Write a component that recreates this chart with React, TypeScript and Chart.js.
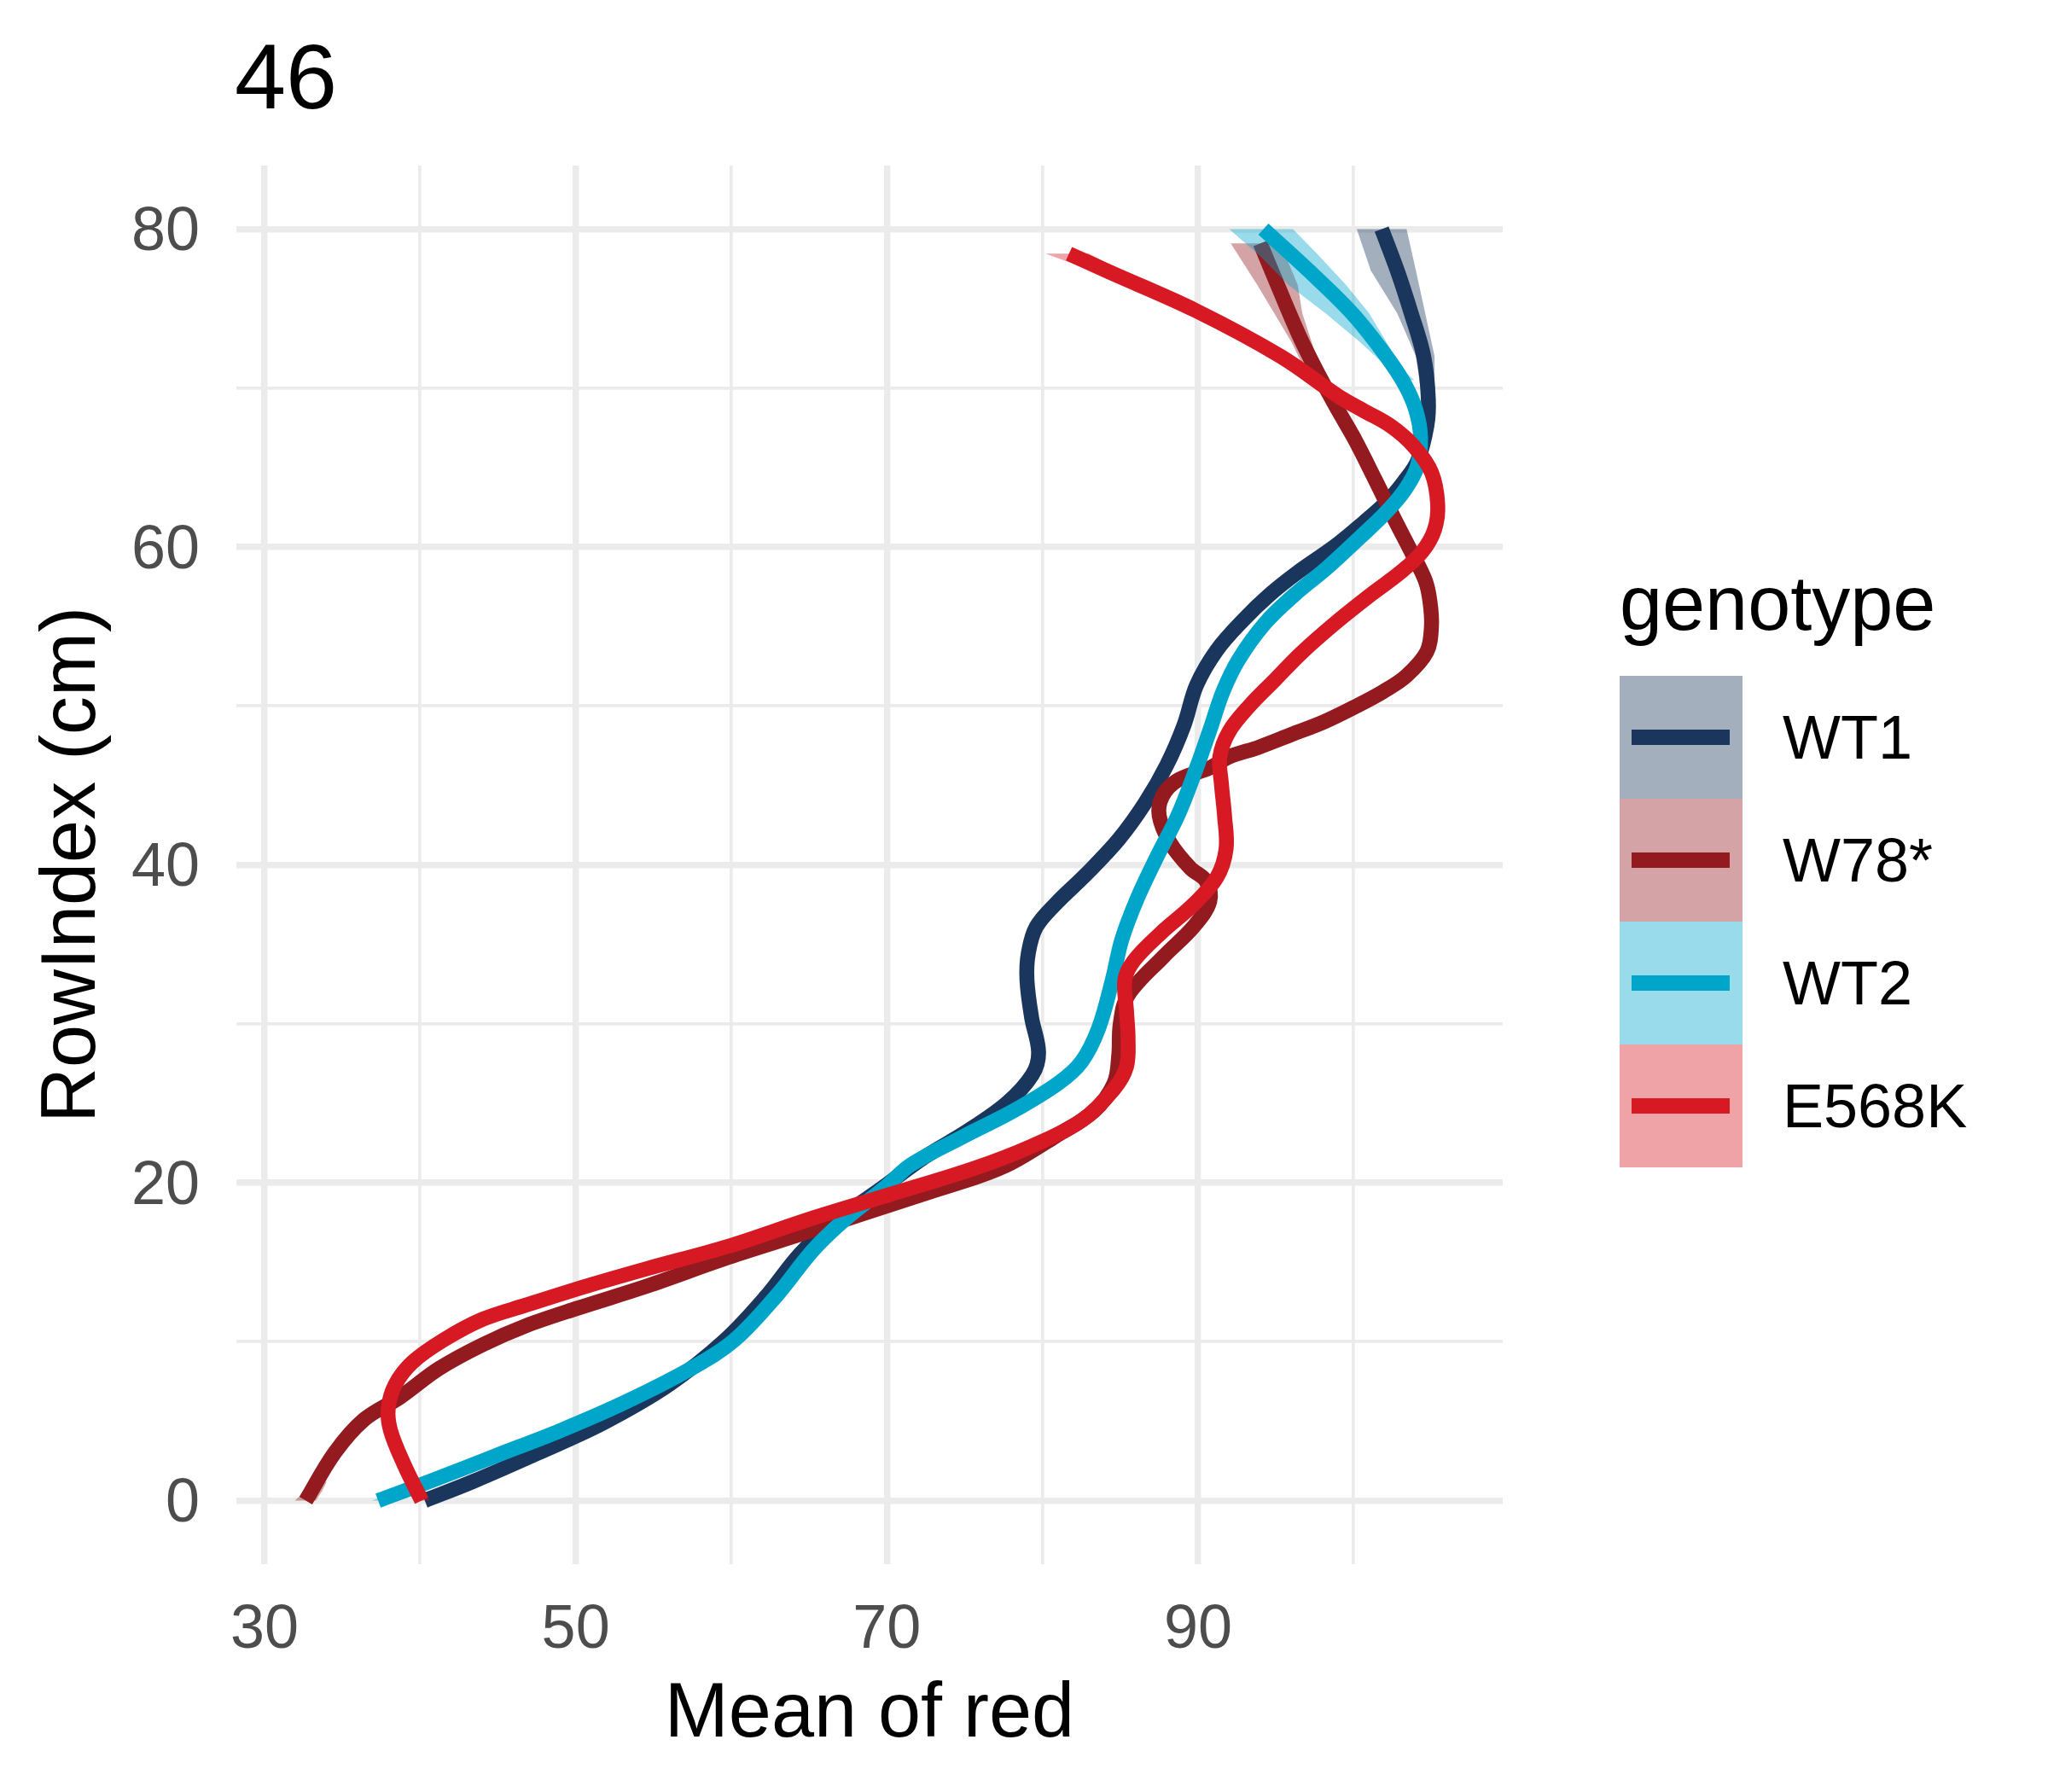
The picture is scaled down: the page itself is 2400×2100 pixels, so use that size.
import React, { useEffect, useRef } from "react";
import Chart from "chart.js/auto";

const FONT = "'Liberation Sans', Arial, Helvetica, sans-serif";

const plotTitle = "46";
const xTitle = "Mean of red";
const yTitle = "RowIndex (cm)";
const legendTitle = "genotype";

const genotypes = ["WT1", "W78*", "WT2", "E568K"];
const lineColors = ["#1B365D", "#931A1E", "#00A5CA", "#D71923"];
const ribbonColors = [
  "rgba(27,54,93,0.4)",
  "rgba(147,25,30,0.4)",
  "rgba(0,165,202,0.4)",
  "rgba(215,25,35,0.4)",
];

// axis ticks
const xTicks = [30, 40, 50, 60, 70, 80, 90, 100];
const xLabelled = [30, 50, 70, 90];
const yTicks = [0, 10, 20, 30, 40, 50, 60, 70, 80];
const yLabelled = [0, 20, 40, 60, 80];
const xMin = 28.19;
const xMax = 109.58;
const yMin = -4.0;
const yMax = 84.0;

// smoothed curves (RowIndex -> mean of red)
const wt1Y = [0, 1.2, 3.0, 4.9, 7.3, 10.1, 12.8, 15.5, 17.5, 19.6, 21.6, 23.2, 25.0, 26.8, 28.2, 30.4, 32.8, 34.5, 36.1, 37.6, 39.4, 41.6, 43.9, 46.3, 48.8, 51.3, 53.5, 55.4, 57.0, 58.4, 60.05, 61.5, 62.9, 64.2, 65.4, 67.6, 69.3, 72.0, 74.7, 77.4, 80.0];
const wt1X = [40.3, 43.4, 47.6, 51.8, 56.0, 59.6, 62.2, 64.4, 66.6, 69.6, 72.4, 75.1, 77.7, 79.35, 79.75, 79.3, 79.0, 79.1, 79.6, 80.9, 82.8, 84.9, 86.6, 88.0, 89.1, 89.9, 91.2, 92.9, 94.6, 96.4, 98.8, 100.6, 102.2, 103.3, 104.1, 104.7, 104.8, 104.5, 103.7, 102.8, 101.8];

const w78Y = [0, 3.0, 5.1, 6.5, 8.3, 9.8, 11.0, 12.1, 13.5, 15.3, 16.9, 19.5, 20.4, 21.25, 22.9, 24.5, 26.25, 28.0, 30.0, 31.8, 34.25, 36.1, 37.7, 39.0, 39.8, 41.4, 43.1, 44.3, 45.3, 46.1, 46.8, 47.4, 48.2, 49.0, 50.0, 50.9, 51.9, 53.4, 55.0, 56.6, 57.9, 59.7, 61.8, 64.2, 66.9, 68.6, 70.75, 73.3, 76.5, 79.1];
const w78X = [32.65, 34.5, 36.4, 38.7, 41.2, 44.0, 46.8, 50.1, 54.6, 59.8, 64.9, 73.0, 75.9, 78.0, 80.8, 83.3, 84.6, 84.9, 85.0, 85.5, 87.8, 89.7, 90.75, 90.5, 89.5, 88.2, 87.5, 87.7, 88.65, 90.75, 92.0, 93.9, 96.0, 98.1, 100.2, 101.9, 103.4, 104.7, 105.0, 104.9, 104.6, 103.7, 102.6, 101.4, 100.0, 99.0, 97.8, 96.5, 95.1, 94.0];

const wt2Y = [0, 1.2, 2.8, 4.4, 6.2, 8.3, 10.1, 13.0, 15.7, 17.6, 19.8, 21.1, 22.9, 24.5, 26.25, 27.6, 29.7, 32.8, 35.3, 37.9, 40.6, 43.1, 46.1, 48.6, 50.9, 52.9, 55.2, 57.0, 58.7, 60.6, 62.2, 63.6, 65.1, 66.9, 68.6, 70.2, 72.0, 74.7, 77.4, 80.0];
const wt2X = [37.3, 40.6, 44.8, 49.0, 53.2, 57.4, 60.2, 63.0, 65.2, 67.2, 70.0, 71.5, 74.9, 78.1, 81.0, 82.5, 83.6, 84.5, 85.1, 86.1, 87.4, 88.7, 89.9, 90.8, 91.6, 92.6, 94.3, 96.2, 98.3, 100.4, 102.1, 103.3, 104.1, 104.3, 104.0, 103.3, 102.1, 99.9, 97.1, 94.2];

const e568kY = [0, 2.2, 4.4, 5.8, 7.3, 8.7, 10.1, 11.4, 12.3, 13.5, 14.6, 16.0, 17.7, 19.2, 20.9, 22.3, 23.9, 25.9, 27.3, 29.1, 30.8, 32.8, 34.0, 35.7, 37.5, 39.2, 41.0, 43.1, 45.1, 46.8, 48.4, 50.0, 51.7, 53.3, 55.2, 57.0, 58.4, 59.7, 61.1, 62.7, 64.7, 66.3, 67.6, 68.6, 69.5, 72.0, 74.9, 77.3, 78.45];
const e568kX = [40.1, 39.0, 38.1, 37.95, 38.4, 39.5, 41.5, 44.0, 46.8, 50.7, 54.6, 59.8, 65.0, 70.0, 75.6, 79.3, 82.5, 84.6, 85.4, 85.5, 85.4, 85.3, 85.9, 87.6, 89.7, 91.2, 91.8, 91.7, 91.5, 91.4, 92.0, 93.3, 95.0, 96.6, 98.8, 101.1, 103.0, 104.4, 105.2, 105.4, 105.0, 103.9, 102.4, 100.6, 99.0, 95.3, 89.8, 84.3, 81.7];

// confidence ribbons (only where wider than the line)
const wt1TopY = [69.3, 72.0, 74.7, 77.4, 80.0];
const wt1TopLo = [104.4, 104.0, 102.8, 101.1, 100.2];
const wt1TopHi = [105.2, 105.2, 104.6, 104.0, 103.4];

const w78TopY = [70.0, 71.1, 72.9, 74.7, 76.5, 79.1];
const w78TopLo = [97.5, 96.9, 96.0, 94.9, 93.8, 92.1];
const w78TopHi = [98.3, 97.9, 97.3, 96.7, 96.4, 95.3];
const w78BotY = [0, 0.6, 1.2];
const w78BotLo = [31.95, 32.6, 33.1];
const w78BotHi = [33.3, 33.7, 34.0];

const wt2TopY = [70.5, 71.1, 72.9, 74.7, 76.5, 78.3, 80.0];
const wt2TopLo = [103.0, 102.4, 100.4, 98.2, 95.8, 94.0, 92.0];
const wt2TopHi = [103.9, 103.2, 102.1, 101.0, 99.5, 97.8, 96.1];
const wt2BotY = [0, 0.5];
const wt2BotLo = [36.9, 38.3];
const wt2BotHi = [37.9, 39.2];

const e568kTopY = [77.0, 77.6, 78.45];
const e568kTopLo = [84.0, 82.6, 80.2];
const e568kTopHi = [86.0, 84.6, 83.0];
const e568kBotY = [0, 0.6, 1.2];
const e568kBotLo = [39.8, 39.5, 39.3];
const e568kBotHi = [40.6, 40.3, 40.0];

function toPoints(xs: number[], ys: number[]) {
  return xs.map((x, i) => ({ x, y: ys[i] }));
}

function toPolygon(ys: number[], lo: number[], hi: number[]) {
  const pts = ys.map((y, i) => ({ x: lo[i], y }));
  for (let i = ys.length - 1; i >= 0; i--) pts.push({ x: hi[i], y: ys[i] });
  return pts;
}

const LINE_W = 17.5;

export default function App() {
  const canvasRef = useRef<HTMLCanvasElement | null>(null);

  useEffect(() => {
    const canvas = canvasRef.current;
    if (!canvas) return;

    const groups = [
      { ribbons: [toPolygon(wt1TopY, wt1TopLo, wt1TopHi)], line: toPoints(wt1X, wt1Y) },
      { ribbons: [toPolygon(w78TopY, w78TopLo, w78TopHi), toPolygon(w78BotY, w78BotLo, w78BotHi)], line: toPoints(w78X, w78Y) },
      { ribbons: [toPolygon(wt2TopY, wt2TopLo, wt2TopHi), toPolygon(wt2BotY, wt2BotLo, wt2BotHi)], line: toPoints(wt2X, wt2Y) },
      { ribbons: [toPolygon(e568kTopY, e568kTopLo, e568kTopHi), toPolygon(e568kBotY, e568kBotLo, e568kBotHi)], line: toPoints(e568kX, e568kY) },
    ];

    const seq: any[] = [];
    groups.forEach((g, gi) => {
      g.ribbons.forEach((poly) => {
        seq.push({
          label: genotypes[gi] + " ribbon",
          data: poly,
          fill: "shape",
          backgroundColor: ribbonColors[gi],
          borderColor: "rgba(0,0,0,0)",
          borderWidth: 0,
          pointRadius: 0,
          tension: 0,
        });
      });
      seq.push({
        label: genotypes[gi],
        data: g.line,
        fill: false,
        borderColor: lineColors[gi],
        backgroundColor: lineColors[gi],
        borderWidth: LINE_W,
        borderCapStyle: "butt",
        borderJoinStyle: "round",
        pointRadius: 0,
        tension: 0.35,
      });
    });
    const n = seq.length;
    seq.forEach((d, i) => {
      d.order = n - i;
    });

    const chart = new Chart(canvas, {
      type: "line",
      data: { datasets: seq },
      options: {
        animation: false,
        responsive: false,
        devicePixelRatio: 1,
        events: [],
        layout: { padding: { left: 0, top: 194, right: 639, bottom: 0 } },
        plugins: {
          legend: { display: false },
          tooltip: { enabled: false },
          title: { display: false },
        },
        elements: { point: { radius: 0 } },
        scales: {
          x: {
            type: "linear",
            min: xMin,
            max: xMax,
            afterFit: (s: any) => {
              s.height = 267;
            },
            afterBuildTicks: (axis: any) => {
              axis.ticks = xTicks.map((v) => ({ value: v }));
            },
            ticks: {
              autoSkip: false,
              maxRotation: 0,
              minRotation: 0,
              padding: 35,
              color: "#4D4D4D",
              font: { family: FONT, size: 72 },
              callback: (v: any) => (xLabelled.includes(Number(v)) ? String(v) : ""),
            },
            grid: {
              color: "#EBEBEB",
              drawTicks: false,
              lineWidth: (c: any) => (c.tick && xLabelled.includes(c.tick.value) ? 7.4 : 3.7),
            },
            border: { display: false },
            title: {
              display: true,
              text: xTitle,
              color: "#000000",
              font: { family: FONT, size: 90 },
              padding: { top: 0, bottom: 36 },
            },
          },
          y: {
            type: "linear",
            min: yMin,
            max: yMax,
            afterFit: (s: any) => {
              s.width = 277;
            },
            afterBuildTicks: (axis: any) => {
              axis.ticks = yTicks.map((v) => ({ value: v }));
            },
            ticks: {
              autoSkip: false,
              padding: 43,
              labelOffset: 5,
              color: "#4D4D4D",
              font: { family: FONT, size: 72 },
              callback: (v: any) => (yLabelled.includes(Number(v)) ? String(v) : ""),
            },
            grid: {
              color: "#EBEBEB",
              drawTicks: false,
              lineWidth: (c: any) => (c.tick && yLabelled.includes(c.tick.value) ? 7.4 : 3.7),
            },
            border: { display: false },
            title: {
              display: true,
              text: yTitle,
              color: "#000000",
              font: { family: FONT, size: 90 },
              padding: { top: 32, bottom: 0 },
            },
          },
        },
      },
    } as any);

    return () => {
      chart.destroy();
    };
  }, []);

  return (
    <div
      style={{
        position: "fixed",
        left: 0,
        top: 0,
        width: 2400,
        height: 2100,
        background: "#FFFFFF",
        fontFamily: FONT,
      }}
    >
      <canvas
        ref={canvasRef}
        width={2400}
        height={2100}
        style={{ position: "absolute", left: 0, top: 0, width: 2400, height: 2100 }}
      />
      <div
        style={{
          position: "absolute",
          left: 275,
          top: 36,
          fontSize: 108,
          lineHeight: 1,
          color: "#000000",
          whiteSpace: "nowrap",
        }}
      >
        {plotTitle}
      </div>
      <div style={{ position: "absolute", left: 1898, top: 662, fontSize: 90, lineHeight: 1, color: "#000000", whiteSpace: "nowrap" }}>
        {legendTitle}
      </div>
      {genotypes.map((g, i) => (
        <div key={g} style={{ position: "absolute", left: 1898, top: 792 + i * 144, height: 144, width: 500 }}>
          <div style={{ position: "absolute", left: 0, top: 0, width: 144, height: 144, background: ribbonColors[i] }}>
            <div
              style={{
                position: "absolute",
                left: 14,
                top: (144 - LINE_W) / 2,
                width: 115,
                height: LINE_W,
                background: lineColors[i],
              }}
            />
          </div>
          <div
            style={{
              position: "absolute",
              left: 191,
              top: 0,
              height: 144,
              lineHeight: "144px",
              fontSize: 72,
              color: "#000000",
              whiteSpace: "nowrap",
            }}
          >
            {g}
          </div>
        </div>
      ))}
    </div>
  );
}
